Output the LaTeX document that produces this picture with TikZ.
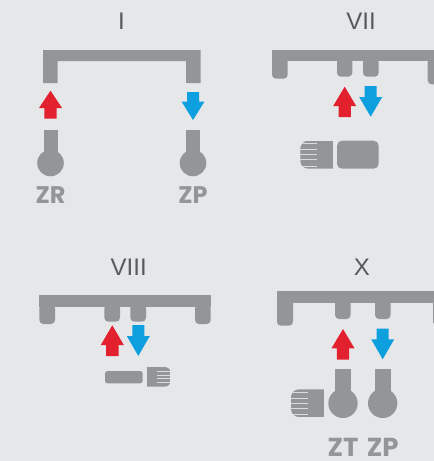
\documentclass[tikz,border=0pt]{standalone}
\usepackage{fontspec}
\setmainfont{Liberation Sans}
\newfontfamily\zonefamily{Poppins}
\definecolor{panelbg}{RGB}{230,231,233}
\definecolor{pipegray}{RGB}{147,149,152}
\definecolor{titlegray}{RGB}{88,89,91}
\definecolor{flowred}{RGB}{226,32,46}
\definecolor{flowblue}{RGB}{14,160,222}
\tikzset{
  pipe/.style={fill=pipegray,draw=none},
  titlefont/.style={text=titlegray,font=\fontsize{24}{24}\selectfont,inner sep=0pt},
  zonefont/.style={text=pipegray,font=\zonefamily\bfseries\fontsize{#1}{#1}\selectfont,inner sep=0pt,anchor=base},
  ribline/.style={draw=panelbg!85!pipegray,line width=0.55pt},
}
% cx, tip, wing y, bottom
\newcommand{\upflow}[4]{%
  \fill[flowred] (#1,#2) -- ({#1+11.5},#3) -- ({#1+6.2},#3) -- ({#1+6.2},#4)
    -- ({#1-6.2},#4) -- ({#1-6.2},#3) -- ({#1-11.5},#3) -- cycle;}
% cx, top, wing y, tip
\newcommand{\downflow}[4]{%
  \fill[flowblue] ({#1-6},#2) -- ({#1+6},#2) -- ({#1+6},#3) -- ({#1+11.5},#3)
    -- (#1,#4) -- ({#1-11.5},#3) -- ({#1-6},#3) -- cycle;}
% x left, x right, y top, y bottom
\newcommand{\stub}[4]{%
  \fill[pipe,rounded corners=4pt] (#1,{#3-3}) -- (#1,#4) -- (#2,#4) -- (#2,{#3-3}) -- cycle;
  \fill[pipe] (#1,{#3-3}) rectangle (#2,#3);}
% x, half stem width, y top, cy, r
\newcommand{\probe}[5]{%
  \fill[pipe] ({#1-#2},#3) rectangle ({#1+#2},#4);
  \fill[pipe] (#1,#4) circle (#5);}
% x left, x right, y top, y bottom (round side on the left)
\newcommand{\knobleft}[4]{%
  \begin{scope}
    \clip[rounded corners=8pt] (#1,#3) rectangle ({#2+10},#4);
    \fill[pipe] (#1,#3) rectangle (#2,#4);
    \foreach \f in {0.1,0.32,0.5,0.68,0.9}
      \draw[ribline] (#1,{#3+\f*(#4-#3)}) -- ({#1+0.52*(#2-#1)},{#3+\f*(#4-#3)});
  \end{scope}}

\begin{document}
\begin{tikzpicture}[x=1pt,y=-1pt]
  \fill[panelbg] (0,0) rectangle (434,461);
  \useasboundingbox (0,0) rectangle (434,461);
  % I
  \node[titlefont] (titleI) at (121.5,21.5) {I};
  \fill[pipe] (43,83) -- (43,50) -- (200.5,50) -- (200.5,83) -- (186,83) -- (186,61)
    -- (57.5,61) -- (57.5,83) -- cycle;
  \upflow{50.5}{90.7}{108}{118.7}
  \downflow{193}{92}{101.5}{120}
  \probe{50.5}{7}{130}{163}{13.3}
  \probe{193}{7}{130}{163}{13.3}
  \node[zonefont=24] (zr) at (50.5,203.3) {ZR};
  \node[zonefont=24] (zpI) at (193,203.3) {ZP};
  % VII
  \node[titlefont] (titleVII) at (361,21.5) {VII};
  \begin{scope}
    \clip (260,40) rectangle (434,100);
    \fill[pipe] (272,50) rectangle (445,61);
    \stub{272}{287.7}{61}{78.7}
    \stub{337}{352.3}{61}{76.7}
    \stub{363}{378.7}{61}{76.7}
    \stub{427.7}{445}{61}{84.3}
  \end{scope}
  \upflow{344.7}{86.7}{106}{117}
  \downflow{370.7}{86}{97}{116.7}
  \fill[pipe,rounded corners=5pt] (337,140.7) rectangle (378.7,168.7);
  \knobleft{300.3}{333.3}{140.7}{168.7}
  % VIII
  \node[titlefont] (titleVIII) at (128.7,267) {VIII};
  \fill[pipe] (39.3,295) rectangle (210.7,307.3);
  \stub{39.3}{55}{307.3}{324}
  \stub{104.3}{120}{307.3}{321.7}
  \stub{130.3}{146}{307.3}{321.7}
  \stub{195}{210.7}{307.3}{324}
  \upflow{112.3}{325.3}{345}{356}
  \downflow{138.3}{325}{336}{356}
  \fill[pipe,rounded corners=2.5pt] (105,371) rectangle (142.7,383.3);
  \begin{scope}
    \clip[rounded corners=6pt] (135,367) rectangle (170.7,386.7);
    \fill[pipe] (147,367) rectangle (170.7,386.7);
    \foreach \f in {371.5,375,378.5,382}
      \draw[ribline] (157,\f) -- (170.7,\f);
  \end{scope}
  % X
  \node[titlefont] (titleX) at (362,267) {X};
  \begin{scope}
    \clip (260,280) rectangle (434,340);
    \fill[pipe] (277,291.3) rectangle (445,302.7);
    \stub{277}{293}{302.7}{325.7}
    \stub{335}{350.7}{302.7}{319}
    \stub{375}{390.7}{302.7}{319}
    \stub{433}{449}{302.7}{325.7}
  \end{scope}
  \upflow{343}{329}{348.3}{359.7}
  \downflow{382.7}{328.7}{339.3}{359.3}
  \probe{343}{7.8}{369.3}{403.3}{14.7}
  \probe{382.7}{7.8}{369.3}{403.3}{14.7}
  \knobleft{291}{323.7}{389.3}{417}
  \node[zonefont=26] (zt) at (343,456.5) {ZT};
  \node[zonefont=26] (zpX) at (382.7,456.5) {ZP};
\end{tikzpicture}
\end{document}
